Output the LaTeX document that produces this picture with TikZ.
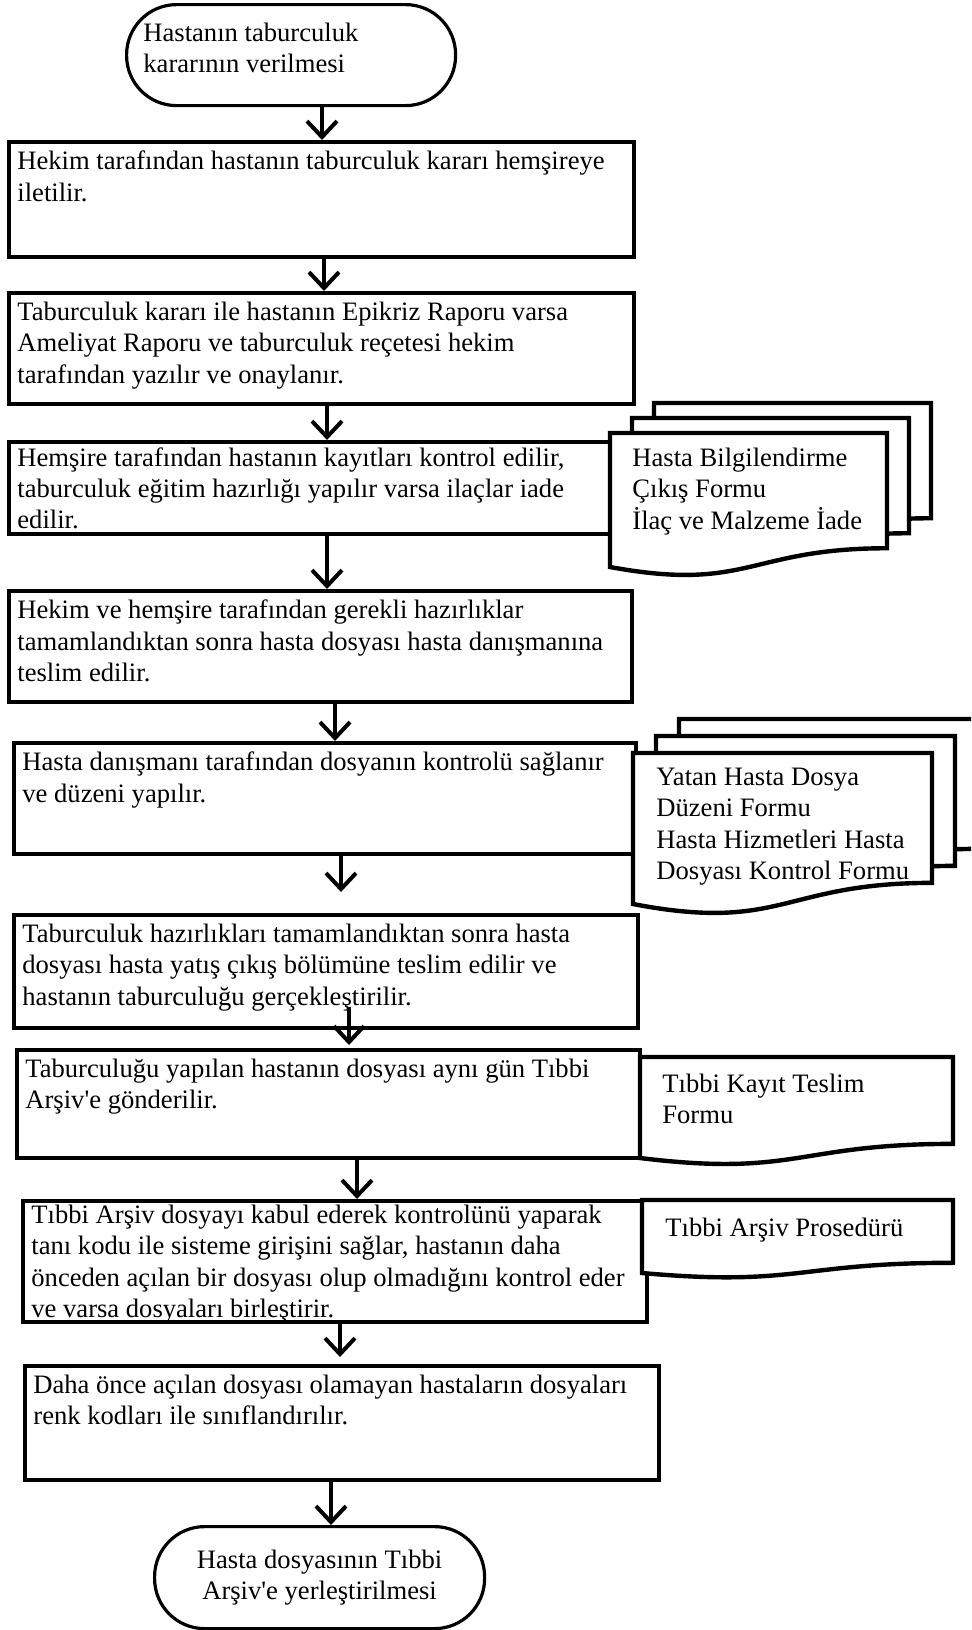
\documentclass[tikz,border=0pt]{standalone}
\usepackage{fontspec}
\setmainfont{Liberation Serif}
\usetikzlibrary{arrows.meta}
\newcommand{\flowfont}{\fontsize{13.3}{15.7}\selectfont}
\newcommand{\docshape}[4]{%
	\filldraw[doc] (#1,#2) -- (#1+#3,#2) -- (#1+#3,#2+0.86*#4)
		.. controls (#1+0.5*#3,#2+0.86*#4) and (#1+0.5*#3,#2+1.19*#4) .. (#1,#2+#4) -- cycle;}
\tikzset{
	proc/.style={draw, line width=2pt, anchor=north west, inner sep=0pt},
	txt/.style={anchor=north west, align=left, inner xsep=5pt, inner ysep=5.3pt, font=\flowfont},
	term/.style={draw, line width=1.6pt, rounded corners=25pt, anchor=north west, inner ysep=0pt, font=\flowfont},
	doc/.style={line width=2.2pt, fill=white},
	flow/.style={line width=2pt, -{Straight Barb[length=8pt,width=15pt]}}
}

\begin{document}
\begin{tikzpicture}[x=0.5pt, y=-0.5pt]
	\useasboundingbox (0,0) rectangle (971,1630);
	\clip (0,0) rectangle (971,1630);
	
	\node[term, minimum width=164.5pt, minimum height=50.5pt] (s) at (125,3) {};
	\node[txt, xshift=4pt, yshift=-4.3pt] (ts) at (s.north west) {Hastanın taburculuk\\kararının verilmesi};
	
	\node[proc, minimum width=312.5pt, minimum height=57.5pt] (b1) at (7,140) {};
	\node[txt] (t1) at (b1.north west) {Hekim tarafından hastanın taburculuk kararı hemşireye\\iletilir.};
	\node[proc, minimum width=312.5pt, minimum height=55.5pt] (b2) at (7,291) {};
	\node[txt] (t2) at (b2.north west) {Taburculuk kararı ile hastanın Epikriz Raporu varsa\\Ameliyat Raporu ve taburculuk reçetesi hekim\\tarafından yazılır ve onaylanır.};
	\node[proc, minimum width=311.5pt, minimum height=46pt] (b3) at (7,440) {};
	\node[txt, yshift=1.8pt] (t3) at (b3.north west) {Hemşire tarafından hastanın kayıtları kontrol edilir,\\taburculuk eğitim hazırlığı yapılır varsa ilaçlar iade\\edilir.};
	\node[proc, minimum width=311.5pt, minimum height=55.5pt] (b4) at (7,589) {};
	\node[txt] (t4) at (b4.north west) {Hekim ve hemşire tarafından gerekli hazırlıklar\\tamamlandıktan sonra hasta dosyası hasta danışmanına\\teslim edilir.};
	\node[proc, minimum width=311pt, minimum height=55.5pt] (b5) at (12,741) {};
	\node[txt] (t5) at (b5.north west) {Hasta danışmanı tarafından dosyanın kontrolü sağlanır\\ve düzeni yapılır.};
	\node[proc, minimum width=312pt, minimum height=56.5pt] (b6) at (12,913) {};
	\node[txt] (t6) at (b6.north west) {Taburculuk hazırlıkları tamamlandıktan sonra hasta\\dosyası hasta yatış çıkış bölümüne teslim edilir ve\\hastanın taburculuğu gerçekleştirilir.};
	\node[proc, minimum width=311.5pt, minimum height=54pt] (b7) at (15,1048) {};
	\node[txt] (t7) at (b7.north west) {Taburculuğu yapılan hastanın dosyası aynı gün Tıbbi\\Arşiv\textquotesingle e gönderilir.};
	\node[proc, minimum width=312pt, minimum height=60.5pt] (b8) at (21,1199) {};
	\node[txt, yshift=2.6pt] (t8) at (b8.north west) {Tıbbi Arşiv dosyayı kabul ederek kontrolünü yaparak\\tanı kodu ile sisteme girişini sağlar, hastanın daha\\önceden açılan bir dosyası olup olmadığını kontrol eder\\ve varsa dosyaları birleştirir.};
	\node[proc, minimum width=317pt, minimum height=57pt] (b9) at (23,1364) {};
	\node[txt] (t9) at (b9.north west) {Daha önce açılan dosyası olamayan hastaların dosyaları\\renk kodları ile sınıflandırılır.};
	
	\node[term, minimum width=165pt, minimum height=51pt, align=center] (e) at (153,1525) {Hasta dosyasının Tıbbi\\Arşiv\textquotesingle e yerleştirilmesi};
	
	% forms
	\docshape{654}{403}{277}{134}
	\docshape{632}{418}{277}{134}
	\docshape{610}{433}{277}{134}
	\node[txt] (d1) at (622,437) {Hasta Bilgilendirme\\Çıkış Formu\\İlaç ve Malzeme İade};
	\docshape{679}{719}{299}{151}
	\docshape{656}{736}{299}{151}
	\docshape{633}{753}{299}{151}
	\node[txt] (d2) at (646,757) {Yatan Hasta Dosya\\Düzeni Formu\\Hasta Hizmetleri Hasta\\Dosyası Kontrol Formu};
	\docshape{640}{1057}{313}{101}
	\node[txt] (d3) at (652,1063) {Tıbbi Kayıt Teslim\\Formu};
	\docshape{642}{1200}{311}{73}
	\node[txt] (d4) at (655,1207) {Tıbbi Arşiv Prosedürü};
	
	\draw[flow] (s.south -| 322,0) -- (b1.north -| 322,0);
	\draw[flow] (b1.south -| 324,0) -- (b2.north -| 324,0);
	\draw[flow] (b2.south -| 327,0) -- (b3.north -| 327,0);
	\draw[flow] (b3.south -| 327,0) -- (b4.north -| 327,0);
	\draw[flow] (b4.south -| 335,0) -- (b5.north -| 335,0);
	\draw[flow] (b5.south -| 341,0) -- ([yshift=10.5pt]b6.north -| 341,0);
	\draw[flow] ([yshift=11.5pt]b6.south -| 349,0) -- ([yshift=1.5pt]b7.north -| 349,0);
	\draw[flow] (b7.south -| 357,0) -- (b8.north -| 357,0);
	\draw[flow] (b8.south -| 340,0) -- ([yshift=3.5pt]b9.north -| 340,0);
	\draw[flow] (b9.south -| 331,0) -- (e.north -| 331,0);
\end{tikzpicture}
\end{document}
